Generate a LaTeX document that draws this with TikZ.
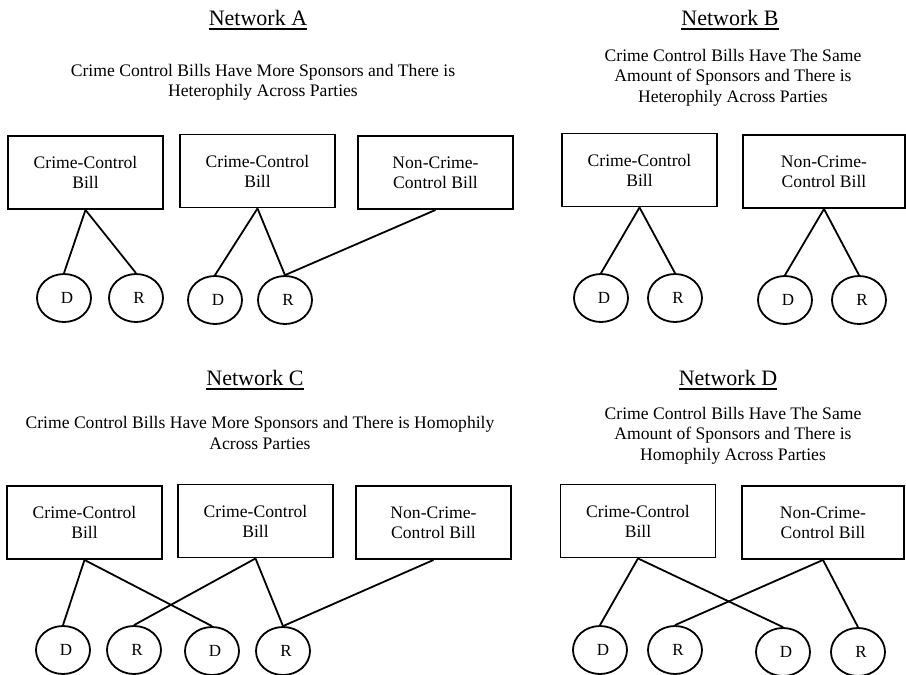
\documentclass[tikz,border=0pt]{standalone}
\usepackage{fontspec}
\setmainfont{Liberation Serif}
\usetikzlibrary{shapes.geometric}
\newcommand{\ttlfont}{\fontsize{22}{26}\selectfont}
\newcommand{\subfont}{\fontsize{17.6}{20.5}\selectfont}
\newcommand{\billfont}{\fontsize{17.6}{20}\selectfont}
\newcommand{\partyfont}{\fontsize{17}{19}\selectfont}
\newcommand{\pl}[1]{\hspace*{6pt}\raisebox{-1.5pt}{#1}}
\begin{document}
\begin{tikzpicture}[x=1pt,y=-1pt,
  bill/.style={draw, line width=1.9pt, rectangle, minimum width=155pt, minimum height=73pt, inner sep=0pt, align=center, font=\billfont},
  party/.style={draw, ellipse, line width=1.8pt, minimum width=54pt, minimum height=48pt, inner sep=0pt, font=\partyfont},
  link/.style={line width=1.8pt},
  ttl/.style={anchor=base, inner sep=0pt, font=\ttlfont},
  ul/.style={line width=2pt},
  sub/.style={align=center, inner sep=0pt, font=\subfont}]
\useasboundingbox (0,0) rectangle (906,675);

% ---------- Network A ----------
\node[ttl] (tA) at (258,25) {Network A};
\draw[ul] ([yshift=-4pt]tA.base west) -- ([yshift=-4pt]tA.base east);
\node[sub] (sA) at (263,82.5) {Crime Control Bills Have More Sponsors and There is\\Heterophily Across Parties};
\node[bill] (a1) at (85.5,172.5) {Crime-Control\\Bill};
\node[bill] (a2) at (257.5,171) {Crime-Control\\Bill};
\node[bill] (a3) at (435.5,172.5) {Non-Crime-\\Control Bill};
\node[party] (aD1) at (64,298) {\pl{D}};
\node[party] (aR1) at (136,298) {\pl{R}};
\node[party] (aD2) at (215,300) {\pl{D}};
\node[party] (aR2) at (285,300) {\pl{R}};
\draw[link] (a1.south) -- (aD1.north);
\draw[link] (a1.south) -- (aR1.north);
\draw[link] (a2.south) -- (aD2.north);
\draw[link] (a2.south) -- (aR2.north);
\draw[link] (a3.south) -- (aR2.north);

% ---------- Network B ----------
\node[ttl] (tB) at (730,25) {Network B};
\draw[ul] ([yshift=-4pt]tB.base west) -- ([yshift=-4pt]tB.base east);
\node[sub] (sB) at (733,77.5) {Crime Control Bills Have The Same\\Amount of Sponsors and There is\\Heterophily Across Parties};
\node[bill] (b1) at (639.5,170) {Crime-Control\\Bill};
\node[bill, minimum width=162pt] (b2) at (824,171.5) {Non-Crime-\\Control Bill};
\node[party] (bD1) at (601,298) {\pl{D}};
\node[party] (bR1) at (675,298) {\pl{R}};
\node[party] (bD2) at (785,300) {\pl{D}};
\node[party] (bR2) at (859,300) {\pl{R}};
\draw[link] (b1.south) -- (bD1.north);
\draw[link] (b1.south) -- (bR1.north);
\draw[link] (b2.south) -- (bD2.north);
\draw[link] (b2.south) -- (bR2.north);

% ---------- Network C ----------
\node[ttl] (tC) at (255,385) {Network C};
\draw[ul] ([yshift=-4pt]tC.base west) -- ([yshift=-4pt]tC.base east);
\node[sub] (sC) at (260,433) {Crime Control Bills Have More Sponsors and There is Homophily\\Across Parties};
\node[bill] (c1) at (84.5,522.5) {Crime-Control\\Bill};
\node[bill] (c2) at (255.5,521) {Crime-Control\\Bill};
\node[bill] (c3) at (433.5,522.5) {Non-Crime-\\Control Bill};
\node[party] (cD1) at (63,650) {\pl{D}};
\node[party] (cR1) at (134,650) {\pl{R}};
\node[party] (cD2) at (212,651) {\pl{D}};
\node[party] (cR2) at (283,651) {\pl{R}};
\draw[link] (c1.south) -- (cD1.north);
\draw[link] (c1.south) -- (cD2.north);
\draw[link] (c2.south) -- (cR1.north);
\draw[link] (c2.south) -- (cR2.north);
\draw[link] (c3.south) -- (cR2.north);

% ---------- Network D ----------
\node[ttl] (tD) at (728,385) {Network D};
\draw[ul] ([yshift=-4pt]tD.base west) -- ([yshift=-4pt]tD.base east);
\node[sub] (sD) at (733,435.5) {Crime Control Bills Have The Same\\Amount of Sponsors and There is\\Homophily Across Parties};
\node[bill] (d1) at (638,521) {Crime-Control\\Bill};
\node[bill, minimum width=162pt] (d2) at (823,522.5) {Non-Crime-\\Control Bill};
\node[party] (dD1) at (600,650) {\pl{D}};
\node[party] (dR1) at (675,650) {\pl{R}};
\node[party] (dD2) at (783,652) {\pl{D}};
\node[party] (dR2) at (858,652) {\pl{R}};
\draw[link] (d1.south) -- (dD1.north);
\draw[link] (d1.south) -- (dD2.north);
\draw[link] (d2.south) -- (dR1.north);
\draw[link] (d2.south) -- (dR2.north);
\end{tikzpicture}
\end{document}
